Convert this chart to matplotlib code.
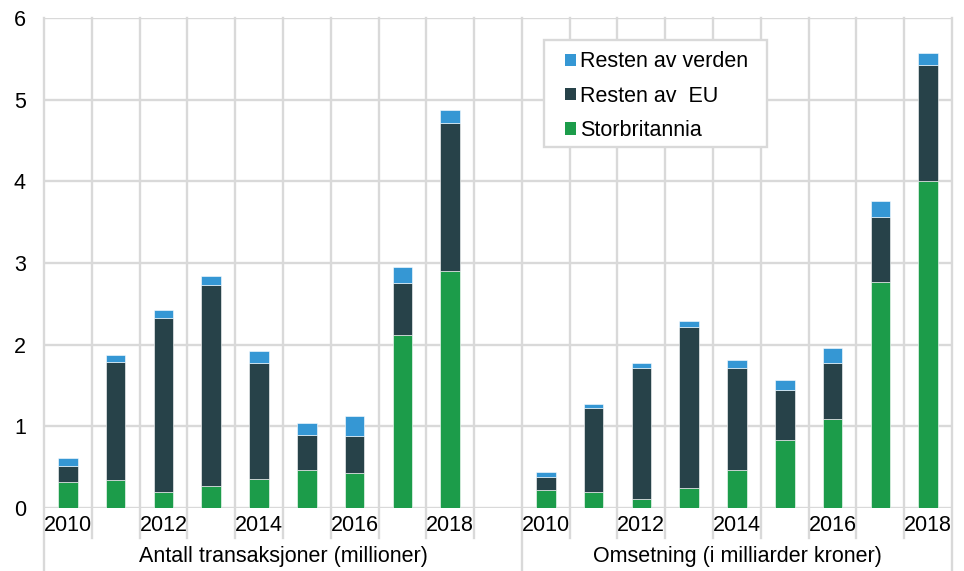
import matplotlib.pyplot as plt
from matplotlib.patches import Patch, Rectangle

plt.rcParams['font.family'] = ['Liberation Sans', 'DejaVu Sans']

years = [2010, 2011, 2012, 2013, 2014, 2015, 2016, 2017, 2018]
year_labels = ['2010', '', '2012', '', '2014', '', '2016', '', '2018']
group_labels = ['Antall transaksjoner (millioner)', 'Omsetning (i milliarder kroner)']
series_names = ['Storbritannia', 'Resten av  EU', 'Resten av verden']

# stacked values (segment sizes, not cumulative)
antall_uk = [0.32, 0.34, 0.19, 0.27, 0.36, 0.465, 0.43, 2.12, 2.90]
antall_eu = [0.19, 1.45, 2.14, 2.46, 1.42, 0.425, 0.45, 0.63, 1.81]
antall_verden = [0.10, 0.08, 0.10, 0.11, 0.14, 0.15, 0.25, 0.20, 0.16]

oms_uk = [0.22, 0.20, 0.11, 0.24, 0.465, 0.83, 1.09, 2.77, 4.00]
oms_eu = [0.155, 1.02, 1.60, 1.98, 1.255, 0.62, 0.69, 0.79, 1.42]
oms_verden = [0.065, 0.05, 0.07, 0.07, 0.09, 0.12, 0.18, 0.20, 0.15]

colors = ['#1c9c4a', '#274249', '#3597d4']
grid_col = '#d9d9d9'
fs = 15.5

# positions: 9 years, one empty slot, 9 years
pos_a = list(range(0, 9))
pos_b = list(range(10, 19))
n_slots = 19

fig = plt.figure(figsize=(9.64, 5.71), dpi=100)
ax = fig.add_axes([44 / 964, 1 - 508 / 571, 908 / 964, 490 / 571])

w = 0.41
for pos, parts in [(pos_a, [antall_uk, antall_eu, antall_verden]),
                   (pos_b, [oms_uk, oms_eu, oms_verden])]:
    bottom = [0.0] * len(pos)
    for vals, c in zip(parts, colors):
        ax.bar(pos, vals, width=w, bottom=bottom, color=c, edgecolor='white',
               linewidth=0.4, zorder=3)
        bottom = [b + v for b, v in zip(bottom, vals)]

ax.set_xlim(-0.5, n_slots - 0.5)
ax.set_ylim(0, 6)
ax.set_yticks(range(7))
ax.tick_params(axis='y', length=0, pad=13, labelsize=fs)
ax.set_xticks([])
for s in ax.spines.values():
    s.set_visible(False)

# horizontal grid
for yv in range(7):
    ax.axhline(yv, color=grid_col, lw=1.7, zorder=1)

# vertical category lines, extended below the axis
trans = ax.get_xaxis_transform()
for k in range(n_slots + 1):
    xb = k - 0.5
    long = k in (0, 10, n_slots)
    ymin = -0.127 if long else -0.061
    ax.plot([xb, xb], [ymin, 1], transform=trans, color=grid_col, lw=1.7,
            clip_on=False, zorder=1)

for pos in (pos_a, pos_b):
    for p, lab in zip(pos, year_labels):
        ax.text(p, -0.035, lab, transform=trans, ha='center', va='center',
                fontsize=fs)

ax.text((-0.5 + 9.5) / 2, -0.098, group_labels[0], transform=trans,
        ha='center', va='center', fontsize=fs)
ax.text((9.5 + 18.5) / 2, -0.098, group_labels[1], transform=trans,
        ha='center', va='center', fontsize=fs)

# legend box drawn separately so its padding can match
ax.add_patch(Rectangle((0.5507, 0.7367), 0.2456, 0.2184, transform=ax.transAxes,
                       facecolor='white', edgecolor=grid_col, lw=1.7, zorder=4))
handles = [Patch(facecolor=c) for c in colors][::-1]
leg = ax.legend(handles, series_names[::-1], loc='upper left',
                bbox_to_anchor=(0.5738, 0.932), borderaxespad=0, fontsize=fs,
                frameon=False, handlelength=0.5, handleheight=0.5,
                handletextpad=0.2, labelspacing=0.62, borderpad=0)
leg.set_zorder(5)

fig.savefig('out.png', dpi=100)
